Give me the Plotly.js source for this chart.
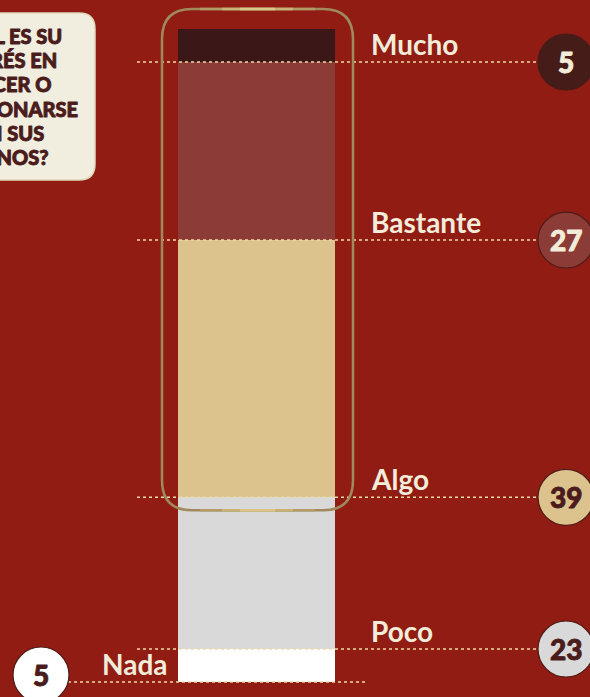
<!DOCTYPE html>
<html>
<head>
<meta charset="utf-8">
<script src="https://cdn.plot.ly/plotly-3.0.1.min.js"></script>
<style>
html,body{margin:0;padding:0;background:#901c14;overflow:hidden;}
#chart{width:590px;height:697px;}
</style>
</head>
<body>
<div id="chart"></div>
<script>
// ---- data ----
const categories = ['Mucho', 'Bastante', 'Algo', 'Poco', 'Nada'];
const values = [5, 27, 39, 23, 5];
const numberLabels = ['5', '27', '39', '23', '5'];
const barColors = ['#3b1718', '#8c3c36', '#dcc38d', '#d9d9d9', '#ffffff'];
const circleColors = ['#461c18', '#8c3c36', '#dcc38e', '#d9d9d9', '#ffffff'];
const numberColors = ['#f2ecd9', '#f2ecd9', '#4a1c1c', '#4a1c1c', '#4a1c1c'];
const questionLines = ['¿CUÁL ES SU', 'INTERÉS EN', 'CONOCER O', 'RELACIONARSE', 'CON SUS', 'VECINOS?'];

// ---- layout geometry ----
const W = 590, H = 697;
const barBottomPx = 682, barTopPx = 29;
const total = values.reduce((a, b) => a + b, 0);
const k = (barBottomPx - barTopPx) / total;      // px per unit
const yMin = -(H - barBottomPx) / k;
const yMax = total + barTopPx / k;
const toPx = v => barBottomPx - v * k;

// cumulative bottoms (stack from bottom: Nada first)
const n = categories.length;
const bottoms = new Array(n);
let acc = 0;
for (let i = n - 1; i >= 0; i--) { bottoms[i] = acc; acc += values[i]; }

const barX = 256.5, barW = 157;
const traces = [];
for (let i = n - 1; i >= 0; i--) {
  traces.push({
    type: 'bar', x: [barX], y: [values[i]], width: [barW],
    marker: {color: barColors[i], line: {width: 0}},
    name: categories[i], hoverinfo: 'skip', showlegend: false
  });
}

const shapes = [];
const annotations = [];
const heavy = [];   // annotation indices drawn heavier
const labelFont = {family: 'Lato, sans-serif', size: 28, color: '#f2ecd9', weight: 700};
const numFontBase = {family: 'Lato, sans-serif', size: 28, weight: 900};

// question box (pixel coords on y2)
const bx0 = -30, bx1 = 95, by0 = 13, by1 = 180, br = 16;
shapes.push({
  type: 'path', xref: 'x', yref: 'y2', layer: 'above',
  path: `M ${bx0},${by0} L ${bx1-br},${by0} Q ${bx1},${by0} ${bx1},${by0+br} L ${bx1},${by1-br} Q ${bx1},${by1} ${bx1-br},${by1} L ${bx0},${by1} Z`,
  fillcolor: '#f1eddf', line: {color: '#e2d8ba', width: 1.5}
});
const qRight = [64, 59, 53, 80, 46, 50];
questionLines.forEach((t, i) => {
  heavy.push(annotations.length);
  annotations.push({
    xref: 'x', yref: 'y2', x: qRight[i], y: 36 + i * 24.2, xanchor: 'right', yanchor: 'middle',
    text: t, showarrow: false,
    font: {family: 'Lato, sans-serif', size: 20, color: '#4a1c1c', weight: 900}
  });
});

// dotted lines, circles, labels
for (let i = 0; i < n; i++) {
  const yv = bottoms[i];
  const isLeft = (i === n - 1);
  shapes.push({
    type: 'line', xref: 'x', yref: 'y', layer: 'above',
    x0: isLeft ? 68 : 137, x1: isLeft ? 368 : 538, y0: yv, y1: yv,
    line: {color: '#ecd9a8', width: 1.5, dash: 'dot'}
  });
  const cx = isLeft ? 41 : 566;
  const cyShift = isLeft ? 7 : 0;
  const r = 28;
  shapes.push({
    type: 'circle', xref: 'x', yref: 'y', ysizemode: 'pixel', yanchor: yv, layer: 'above',
    x0: cx - r, x1: cx + r, y0: cyShift - r, y1: cyShift + r,
    fillcolor: circleColors[i],
    line: {color: i === 0 ? '#461c18' : '#4e1c18', width: 1.2}
  });
  heavy.push(annotations.length);
  annotations.push({
    xref: 'x', yref: 'y', x: cx, y: yv, yshift: cyShift, xanchor: 'center', yanchor: 'middle',
    text: numberLabels[i], showarrow: false,
    font: Object.assign({}, numFontBase, {color: numberColors[i]})
  });
  annotations.push({
    xref: 'x', yref: 'y', x: isLeft ? 170 : 369, y: yv, yshift: 18,
    xanchor: isLeft ? 'right' : 'left', yanchor: 'middle',
    text: categories[i], showarrow: false, font: labelFont
  });
}

// gold rounded outline around the top three categories
const oTop = barTopPx - 20;
const oBot = toPx(bottoms[2]) + 13;
const ox0 = 162, ox1 = 353, orr = 30;
const outlinePath = `M ${ox0+orr},${oTop} L ${ox1-orr},${oTop} Q ${ox1},${oTop} ${ox1},${oTop+orr} L ${ox1},${oBot-orr} Q ${ox1},${oBot} ${ox1-orr},${oBot} L ${ox0+orr},${oBot} Q ${ox0},${oBot} ${ox0},${oBot-orr} L ${ox0},${oTop+orr} Q ${ox0},${oTop} ${ox0+orr},${oTop} Z`;
shapes.push({type: 'path', xref: 'x', yref: 'y2', layer: 'above', path: outlinePath,
  line: {color: '#a08a5c', width: 2.5}});
[[200, 315, '#b29b66'], [222, 293, '#c8b277'], [240, 275, '#dcc687']].forEach(s => {
  [oTop, oBot].forEach(yy => {
    shapes.push({type: 'line', xref: 'x', yref: 'y2', layer: 'above', x0: s[0], x1: s[1], y0: yy, y1: yy,
      line: {color: s[2], width: 2.5}});
  });
});

const layout = {
  width: W, height: H,
  margin: {l: 0, r: 0, t: 0, b: 0, pad: 0},
  paper_bgcolor: '#901c14', plot_bgcolor: '#901c14',
  barmode: 'stack', bargap: 0,
  showlegend: false,
  xaxis: {range: [0, W], visible: false, fixedrange: true},
  yaxis: {range: [yMin, yMax], visible: false, fixedrange: true},
  yaxis2: {range: [H, 0], overlaying: 'y', visible: false, fixedrange: true},
  shapes: shapes, annotations: annotations
};

Plotly.newPlot('chart', traces, layout, {displayModeBar: false, staticPlot: true}).then(() => {
  heavy.forEach(idx => {
    const t = document.querySelector(`g.annotation[data-index="${idx}"] text.annotation-text`);
    if (t) {
      const f = t.style.fill;
      t.style.stroke = f;
      t.style.strokeWidth = '0.9px';
      t.style.strokeLinejoin = 'round';
    }
  });
});
</script>
</body>
</html>
